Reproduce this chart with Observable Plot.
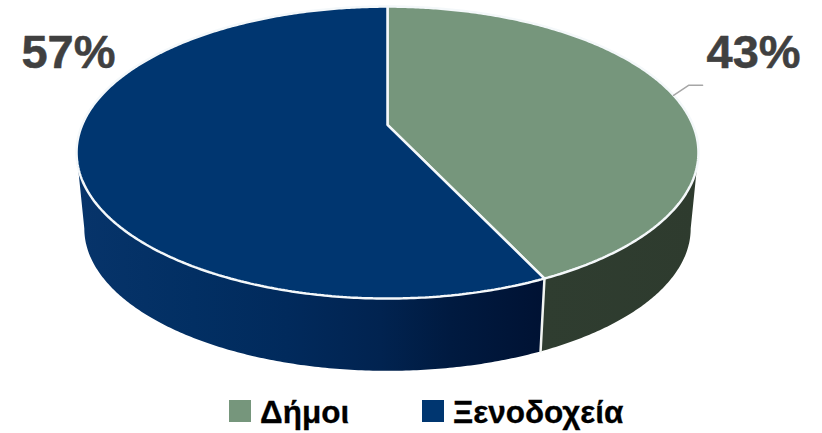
<!DOCTYPE html>
<html lang="el">
<head>
<meta charset="utf-8">
<script src="https://cdn.jsdelivr.net/npm/d3@7"></script>
<script src="https://cdn.jsdelivr.net/npm/@observablehq/plot@0.6"></script>
<style>
html,body{margin:0;padding:0;background:#fff;overflow:hidden}
#chart svg{display:block}
#legend{position:relative;height:38px;font:bold 31.5px "Liberation Sans",Arial,sans-serif;color:#000;-webkit-text-stroke:0.3px #000}
#legend .sw{position:absolute;top:5px;width:22px;height:22px}
#legend .tx{position:absolute;top:0;line-height:35px;white-space:nowrap}
</style>
</head>
<body>
<div id="chart"></div>
<div id="legend"></div>
<script>
const categories = ["Δήμοι", "Ξενοδοχεία"];
const shares = [43, 57];
const labels = ["43%", "57%"];
const topColors = ["#76967c", "#003670"];
const wallStops = [
  [["0%", "#2e3b2e"], ["100%", "#2f3d30"]],
  [["0%", "#001233"], ["20%", "#001a40"], ["35%", "#012350"], ["55%", "#012a5c"], ["75%", "#022f63"], ["100%", "#07346a"]]
];
const labelX = [1.199, -1.045];
const labelY = [-0.514, -0.514];
const legendSwatchLeft = [229, 422];
const legendTextLeft = [260, 453];

// perspective of the tilted disc
const tilt = -0.19, drop = 0.545, shrink = 0.975;
const project = (a, lower = false) => {
  const u = Math.sin(a), v = -Math.cos(a), d = 1 + tilt * v, s = lower ? shrink : 1;
  return {x: s * u / d, y: s * v / d + (lower ? drop : 0)};
};
const arcPts = (a0, a1, lower) => {
  const n = Math.max(2, Math.ceil((a1 - a0) / 0.01));
  return d3.range(n + 1).map(i => project(a0 + (a1 - a0) * i / n, lower));
};
const arcs = d3.pie().sort(null)(shares);
const tangent = Math.acos(tilt); // silhouette of the side wall
const leftLimit = 2 * Math.PI - tangent;

const marks = [];
marks.push(() => {
  const defs = d3.create("svg:defs");
  wallStops.forEach((stops, i) => {
    const g = defs.append("linearGradient").attr("id", "wall" + i)
      .attr("x1", "100%").attr("x2", "0%").attr("y1", "0%").attr("y2", "0%");
    stops.forEach(([o, c]) => g.append("stop").attr("offset", o).attr("stop-color", c));
  });
  return defs.node();
});
arcs.forEach((s, i) => {
  const a0 = Math.max(s.startAngle, tangent), a1 = Math.min(s.endAngle, leftLimit);
  const wall = [...arcPts(a0, a1, false), ...arcPts(a0, a1, true).reverse()];
  marks.push(Plot.line(wall, {x: "x", y: "y", fill: `url(#wall${i})`, stroke: "none"}));
});
// divider on the wall, at the slice boundary
const boundary = arcs[0].endAngle;
marks.push(Plot.line([project(boundary), project(boundary, true)], {x: "x", y: "y", stroke: "#f2f5f2", strokeWidth: 2.5}));
arcs.forEach((s, i) => {
  const poly = [{x: 0, y: 0}, ...arcPts(s.startAngle, s.endAngle, false), {x: 0, y: 0}];
  marks.push(Plot.line(poly, {x: "x", y: "y", fill: topColors[i], stroke: "#f4f8fa", strokeWidth: 2.5, strokeLinejoin: "miter"}));
});
// leader of the first label
const mid = (arcs[0].startAngle + arcs[0].endAngle) / 2, anchor = project(mid);
const leader = [anchor, {x: anchor.x + 0.049, y: anchor.y - 0.071}, {x: anchor.x + 0.095, y: anchor.y - 0.071}];
marks.push(Plot.line(leader, {x: "x", y: "y", stroke: "#a6a6a6", strokeWidth: 1.5}));
marks.push(Plot.text(labels, {
  x: (d, i) => labelX[i], y: (d, i) => labelY[i], text: d => d,
  fontSize: 47, fontWeight: "bold", fontFamily: "'Liberation Sans', Arial, sans-serif", fill: "#404040",
  stroke: "#404040", strokeWidth: 0.5
}));

const plot = Plot.plot({
  width: 822, height: 395, margin: 0,
  x: {axis: null, domain: [-1, 1], range: [387 - 305.3, 387 + 305.3]},
  y: {axis: null, domain: [-1, 1], range: [124.3 - 140.7, 124.3 + 140.7]},
  marks
});
document.getElementById("chart").append(plot);

const legend = d3.select("#legend");
categories.forEach((c, i) => {
  legend.append("span").attr("class", "sw").style("left", legendSwatchLeft[i] + "px").style("background", topColors[i]);
  legend.append("span").attr("class", "tx").style("left", legendTextLeft[i] + "px").text(c);
});
</script>
</body>
</html>
